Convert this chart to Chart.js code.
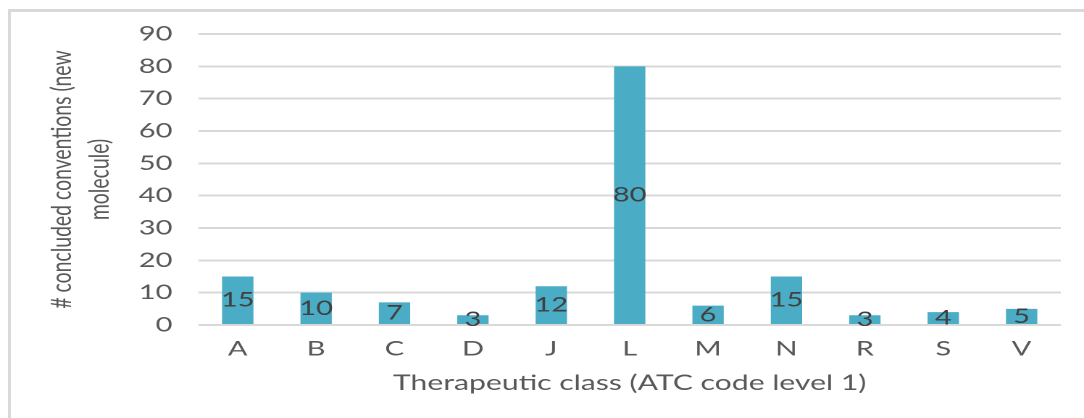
<!DOCTYPE html>
<html><head><meta charset="utf-8">
<script src="https://cdn.jsdelivr.net/npm/chart.js@4/dist/chart.umd.min.js"></script>
<style>
html,body{margin:0;padding:0;background:#fff;overflow:hidden;width:1084px;height:418px;}
#frame{position:absolute;left:8px;top:9px;width:2000px;height:2000px;border:3px solid #d9d9d9;box-sizing:border-box;}
#wrap{position:absolute;left:0;top:0;width:748px;height:418px;transform:scaleX(1.4492);transform-origin:0 0;}
</style></head><body>
<div id="frame"></div>
<div id="wrap"><canvas id="c"></canvas></div>
<script>
const categories = ['A','B','C','D','J','L','M','N','R','S','V'];
const values = [15,10,7,3,12,80,6,15,3,4,5];
const yTickValues = [0,10,20,30,40,50,60,70,80,90];
const xTitle = 'Therapeutic class (ATC code level 1)';
const yTitle = ['# concluded conventions (new', 'molecule)'];

const FONT = 'Lato, "Open Sans", sans-serif';
const barColor = '#4BACC6';

const barLabels = {
  id: 'barLabels',
  afterDatasetsDraw(chart) {
    const ctx = chart.ctx;
    const meta = chart.getDatasetMeta(0);
    ctx.save();
    ctx.font = '20px ' + FONT;
    ctx.fillStyle = '#404040';
    ctx.textAlign = 'center';
    ctx.textBaseline = 'middle';
    meta.data.forEach((bar, i) => {
      const p = bar.getProps(['x', 'y', 'base'], true);
      ctx.fillText(String(values[i]), p.x, (p.y + p.base) / 2);
    });
    ctx.restore();
  }
};

new Chart(document.getElementById('c'), {
  type: 'bar',
  data: {
    labels: categories,
    datasets: [{
      data: values,
      backgroundColor: barColor,
      borderWidth: 0,
      barPercentage: 0.4,
      categoryPercentage: 1.0
    }]
  },
  options: {
    responsive: true,
    maintainAspectRatio: false,
    animation: false,
    devicePixelRatio: 2,
    layout: { padding: { top: 34, right: 16, bottom: 0, left: 0 } },
    plugins: { legend: { display: false }, tooltip: { enabled: false } },
    scales: {
      x: {
        grid: { display: false, drawTicks: false },
        border: { display: false },
        ticks: { color: '#595959', font: { family: FONT, size: 20 }, padding: 12 },
        title: { display: true, text: xTitle, color: '#595959', font: { family: FONT, size: 20.8 }, padding: { top: 0, bottom: 22 } },
        afterFit: s => { s.height = 93; }
      },
      y: {
        min: 0, max: 90,
        afterBuildTicks: s => { s.ticks = yTickValues.map(v => ({ value: v })); },
        grid: { color: '#d9d9d9', lineWidth: 2, drawTicks: false },
        border: { display: false },
        ticks: { color: '#595959', font: { family: FONT, size: 20 }, padding: 18 },
        title: { display: true, text: yTitle, color: '#595959', font: { family: FONT, size: 19.4, lineHeight: 1.34 }, padding: { top: 30, bottom: 0 } },
        afterFit: s => { s.width = 137; }
      }
    }
  },
  plugins: [barLabels]
});
</script>
</body></html>
